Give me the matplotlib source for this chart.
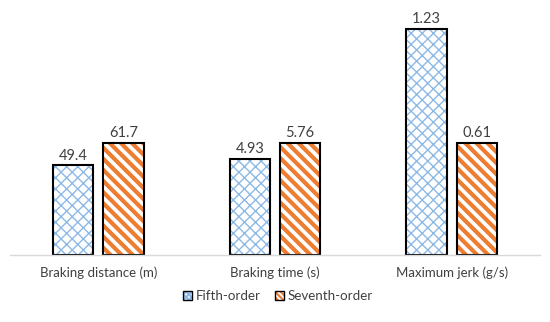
import matplotlib
matplotlib.use("Agg")
import matplotlib.pyplot as plt
from matplotlib.patches import Patch
from matplotlib.legend_handler import HandlerTuple
import numpy as np

plt.rcParams['font.family'] = ['Lato', 'DejaVu Sans']

categories = ["Braking distance (m)", "Braking time (s)", "Maximum jerk (g/s)"]
fifth = [49.4, 4.93, 1.23]
seventh = [61.7, 5.76, 0.61]
fifth_labels = ["49.4", "4.93", "1.23"]
seventh_labels = ["61.7", "5.76", "0.61"]

# each group is scaled so the seventh-order bar has the same height
fifth_rel = [f / s for f, s in zip(fifth, seventh)]
seventh_rel = [1.0 for s in seventh]

blue = "#8DB9E6"
orange = "#ED7D31"
text_col = "#404040"
blue_hatch = "xxx"
orange_hatch = "\\\\\\"

fig = plt.figure(figsize=(5.5, 3.22), dpi=100)
ax = fig.add_axes([10 / 550, 67 / 322, 530 / 550, 245 / 322])

x = np.arange(len(categories))
w = 0.23
gap = 0.055
xf = x - w / 2 - gap / 2
xs = x + w / 2 + gap / 2

plt.rcParams['hatch.linewidth'] = 1.0
ax.bar(xf, fifth_rel, w, color="white", edgecolor=blue, hatch=blue_hatch, linewidth=0)
plt.rcParams['hatch.linewidth'] = 3.0
ax.bar(xs, seventh_rel, w, color="white", edgecolor=orange, hatch=orange_hatch, linewidth=0)
plt.rcParams['hatch.linewidth'] = 1.0
ax.bar(xf, fifth_rel, w, fill=False, edgecolor="black", linewidth=1.5)
ax.bar(xs, seventh_rel, w, fill=False, edgecolor="black", linewidth=1.5)

for i in range(len(categories)):
    ax.text(xf[i], fifth_rel[i] + 0.025, fifth_labels[i], ha="center", va="bottom",
            fontsize=10.5, color=text_col)
    ax.text(xs[i], seventh_rel[i] + 0.025, seventh_labels[i], ha="center", va="bottom",
            fontsize=10.5, color=text_col)

ax.set_xlim(-0.5, 2.5)
ax.set_ylim(0, 245 / 112)
ax.set_xticks(x)
ax.set_xticklabels(categories, fontsize=9.5, color=text_col)
ax.tick_params(axis="x", length=0, pad=8)
ax.set_yticks([])
for s in ["top", "left", "right"]:
    ax.spines[s].set_visible(False)
ax.spines["bottom"].set_color("#D9D9D9")
ax.spines["bottom"].set_linewidth(1.0)

# legend keys: hatched square with a black border on top
plt.rcParams['hatch.linewidth'] = 0.8
h1 = Patch(facecolor="white", edgecolor=blue, hatch="xxxxxx", linewidth=0)
plt.rcParams['hatch.linewidth'] = 1.5
h2 = Patch(facecolor="white", edgecolor=orange, hatch="\\\\\\\\\\\\", linewidth=0)
b1 = Patch(fill=False, edgecolor="black", linewidth=1.0)
b2 = Patch(fill=False, edgecolor="black", linewidth=1.0)
fig.legend([(h1, b1), (h2, b2)], ["Fifth-order", "Seventh-order"], loc="center",
           bbox_to_anchor=(278 / 550, 1 - 296 / 322), ncol=2, frameon=False,
           fontsize=9.6, handlelength=0.65, handleheight=0.65, handletextpad=0.3,
           columnspacing=1.1, labelcolor=text_col,
           handler_map={tuple: HandlerTuple(ndivide=1)})

fig.savefig("out.png", dpi=100)
